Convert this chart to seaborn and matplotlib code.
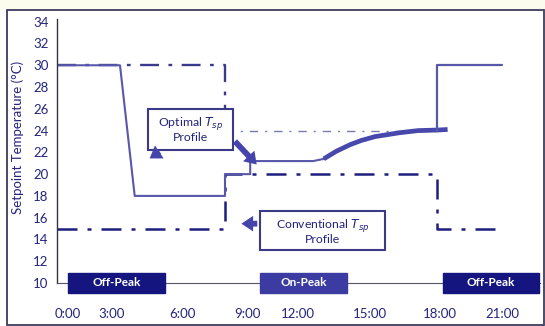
import matplotlib
matplotlib.use("Agg")
import matplotlib.pyplot as plt
from matplotlib.patches import Rectangle, FancyArrowPatch
import seaborn as sns
import pandas as pd

# Optimal setpoint profile (hours, degC)
optimal_hours = [0, 3.0, 3.7, 8.0, 8.0, 9.2, 9.2, 12.2, 12.7]
optimal_temp = [30, 30, 18, 18, 20, 20, 21.2, 21.2, 21.4]
# Pre-cooling ramp during on-peak
ramp_hours = [12.7, 13.3, 13.95, 14.5, 15.15, 16.3, 17.2, 18.1, 18.6]
ramp_temp = [21.4, 22.1, 22.7, 23.1, 23.45, 23.8, 24.0, 24.05, 24.1]
# Return to setback in the evening
evening_hours = [18.1, 18.1, 21.2]
evening_temp = [24, 30, 30]

# Conventional setpoint profiles
conv_upper_hours = [0, 8.0, 8.0]
conv_upper_temp = [30, 30, 24]
conv_occ_hours = [8.0, 18.1]
conv_occ_temp = [24, 24]
conv_lower_hours = [0, 8.0, 8.0, 18.1, 18.1, 21.2]
conv_lower_temp = [15, 15, 20, 20, 15, 15]

# Tariff periods (start, end, label)
period_start = [0.52, 9.67, 18.38]
period_end = [5.14, 13.81, 22.95]
period_label = ["Off-Peak", "On-Peak", "Off-Peak"]
period_color = ["#15157f", "#3b3ba2", "#15157f"]

y_ticks = list(range(10, 36, 2))
x_label_pos = [0.52, 2.62, 5.95, 9.05, 11.48, 14.9, 18.24, 21.19]
x_labels = ["0:00", "3:00", "6:00", "9:00", "12:00", "15:00", "18:00", "21:00"]
x_marks = [0, 3, 6, 9, 12, 15, 18, 21]

sns.set_style("white")
plt.rcParams["font.family"] = ["Lato", "DejaVu Sans"]

navy = "#24247c"
slate = "#5858aa"

fig = plt.figure(figsize=(5.45, 3.26), dpi=100)
fig.patch.set_facecolor("white")
ax = fig.add_axes([57 / 545, 1 - 283 / 326, (540 - 57) / 545, (283 - 19) / 326])
ax.set_facecolor("white")


def draw(h, t, **kw):
    df = pd.DataFrame({"h": h, "t": t})
    sns.lineplot(data=df, x="h", y="t", sort=False, estimator=None, ax=ax, **kw)


dash_dot = (0, (8, 4, 1.6, 4))
draw(conv_upper_hours, conv_upper_temp, color="#3a3a8c", lw=1.7, linestyle=dash_dot)
draw(conv_occ_hours, conv_occ_temp, color="#7a7ab0", lw=1.0, linestyle=(0, (6, 5, 1.5, 5)))
draw(conv_lower_hours, conv_lower_temp, color="#1e1e80", lw=1.8, linestyle=dash_dot)
draw(optimal_hours, optimal_temp, color=slate, lw=1.5)
draw(ramp_hours, ramp_temp, color="#4848ac", lw=3.4, solid_capstyle="butt")
draw(evening_hours, evening_temp, color=slate, lw=1.6)

ax.set_xlim(0, 23)
ax.set_ylim(10, 34.25)
ax.set_xlabel("")
ax.set_ylabel("")

# axes styling
for s in ["top", "right"]:
    ax.spines[s].set_visible(False)
ax.spines["left"].set_color("#333344")
ax.spines["left"].set_linewidth(1.0)
ax.spines["bottom"].set_color("#555566")
ax.spines["bottom"].set_linewidth(0.8)

ax.set_yticks(y_ticks)
ax.set_yticklabels([str(v) for v in y_ticks])
ax.tick_params(axis="y", direction="out", length=3, width=0.8, color="#333344",
               labelsize=9.5, labelcolor=navy, pad=3)

ax.set_xticks(x_label_pos)
ax.set_xticklabels(x_labels)
ax.tick_params(axis="x", which="major", length=0, labelsize=9.5, labelcolor=navy, pad=18)
ax.set_xticks(x_marks, minor=True)
ax.tick_params(axis="x", which="minor", direction="inout", length=4, width=0.8, color="#666677")

# tariff period labels on the time axis
for s, e, lab, c in zip(period_start, period_end, period_label, period_color):
    ax.add_patch(Rectangle((s, 9.1), e - s, 1.8, facecolor=c, edgecolor=c,
                           clip_on=False, zorder=5))
    ax.text((s + e) / 2, 10.0, lab, color="white", fontsize=8.5, fontweight="bold",
            ha="center", va="center", zorder=6, clip_on=False)

# callout boxes
box_kw = dict(facecolor="white", edgecolor="#3a3a88", lw=1.5, zorder=4)
ax.add_patch(Rectangle((4.33, 22.2), 8.38 - 4.33, 26.0 - 22.2, **box_kw))
ax.text(6.36, 24.1, "Optimal $T_{sp}$\nProfile", color=navy, fontsize=8.8,
        ha="center", va="center", linespacing=1.0, zorder=5)
ax.add_patch(Rectangle((9.67, 13.0), 15.62 - 9.67, 16.6 - 13.0, **box_kw))
ax.text(12.64, 14.8, "Conventional $T_{sp}$\nProfile", color=navy, fontsize=8.8,
        ha="center", va="center", linespacing=1.0, zorder=5)

arrow_color = "#4444aa"
arrow_style = "simple,head_length=0.6,head_width=0.8,tail_width=0.3"
for start, end in [((5.0, 22.2), (4.3, 21.3)),
                   ((8.38, 23.2), (9.6, 20.7)),
                   ((9.67, 15.45), (8.65, 15.45))]:
    ax.add_patch(FancyArrowPatch(start, end, arrowstyle=arrow_style, mutation_scale=14,
                                 color=arrow_color, lw=0, zorder=6, clip_on=False))

fig.text(18 / 545, 1 - 137 / 326, "Setpoint Temperature (°C)", rotation=90,
         color=navy, fontsize=9.5, ha="center", va="center")

# outer frame and top band
fig.patches.append(Rectangle((0, 1 - 10 / 326), 1, 10 / 326, transform=fig.transFigure,
                             facecolor="#fbfbee", edgecolor="none", zorder=0))
fig.patches.append(Rectangle((7 / 545, 1 / 326), 537 / 545, 315 / 326,
                             transform=fig.transFigure, facecolor="none",
                             edgecolor="#3d3d5e", lw=1.3, zorder=10))

fig.savefig("out.png", dpi=100)
